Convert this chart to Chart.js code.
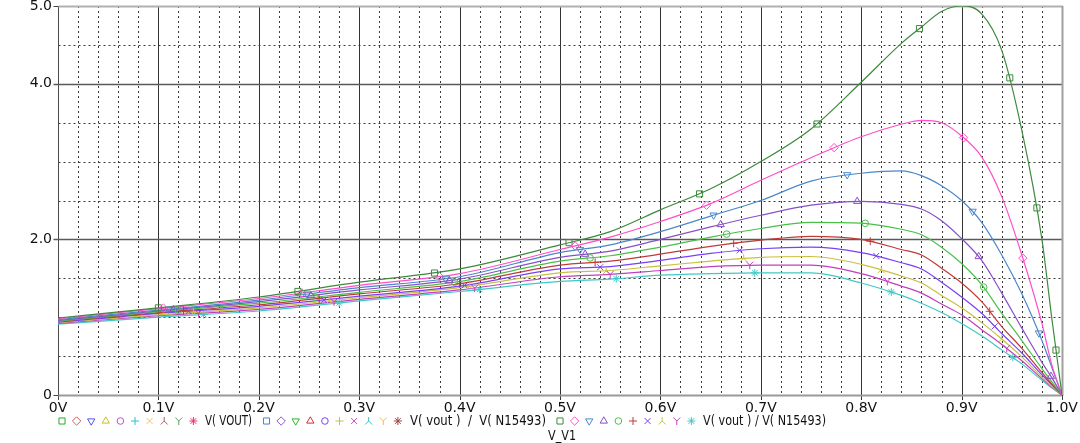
<!DOCTYPE html>
<html>
<head>
<meta charset="utf-8">
<title>V(vout) / V(N15493) sweep</title>
<script src="https://cdn.jsdelivr.net/npm/chart.js@4.4.1/dist/chart.umd.min.js"></script>
<style>
  html, body { margin: 0; padding: 0; background: #fff; }
  #wrap { width: 1080px; height: 443px; position: relative; }
</style>
</head>
<body>
<div id="wrap"><canvas id="plot"></canvas></div>
<script>
'use strict';

/* ── DATA ─────────────────────────────────────────────── */
const sweep = [0, 0.1, 0.2, 0.3, 0.4, 0.5, 0.55, 0.6, 0.65, 0.7, 0.75, 0.8,
               0.84, 0.86, 0.88, 0.9, 0.92, 0.94, 0.96, 0.98, 0.99, 1.0];

const vGreen   = [0.99, 1.12, 1.26, 1.45, 1.62, 1.93, 2.10, 2.38, 2.65, 3.00, 3.42, 4.02, 4.52, 4.73, 4.93, 5.00, 4.90, 4.43, 3.40, 2.00, 0.97, 0];
const vPink    = [0.98, 1.11, 1.24, 1.41, 1.56, 1.87, 2.03, 2.23, 2.46, 2.76, 3.05, 3.32, 3.48, 3.53, 3.50, 3.33, 3.06, 2.55, 1.80, 0.92, 0.38, 0];
const vBlue    = [0.97, 1.09, 1.22, 1.38, 1.52, 1.83, 1.93, 2.10, 2.30, 2.50, 2.75, 2.85, 2.88, 2.82, 2.69, 2.50, 2.22, 1.80, 1.30, 0.70, 0.35, 0];
const vPurple  = [0.96, 1.08, 1.20, 1.35, 1.49, 1.77, 1.85, 2.00, 2.16, 2.31, 2.44, 2.49, 2.45, 2.39, 2.24, 2.01, 1.73, 1.31, 0.86, 0.42, 0.22, 0];
const vGreen2  = [0.95, 1.07, 1.18, 1.32, 1.46, 1.72, 1.79, 1.90, 2.03, 2.14, 2.22, 2.21, 2.13, 2.06, 1.90, 1.69, 1.42, 1.05, 0.70, 0.34, 0.17, 0];
const vRed     = [0.945, 1.06, 1.16, 1.30, 1.43, 1.67, 1.72, 1.81, 1.91, 1.99, 2.04, 2.00, 1.87, 1.80, 1.63, 1.44, 1.20, 0.88, 0.60, 0.29, 0.14, 0];
const vViolet  = [0.935, 1.05, 1.14, 1.27, 1.40, 1.62, 1.65, 1.73, 1.82, 1.88, 1.90, 1.83, 1.70, 1.62, 1.45, 1.26, 1.05, 0.79, 0.54, 0.26, 0.13, 0];
const vYellow  = [0.93, 1.03, 1.12, 1.25, 1.38, 1.57, 1.60, 1.66, 1.72, 1.77, 1.78, 1.68, 1.53, 1.44, 1.28, 1.12, 0.93, 0.72, 0.49, 0.23, 0.11, 0];
const vMagenta = [0.92, 1.02, 1.10, 1.23, 1.35, 1.52, 1.55, 1.60, 1.65, 1.67, 1.67, 1.56, 1.40, 1.31, 1.17, 1.03, 0.84, 0.65, 0.44, 0.21, 0.10, 0];
const vCyan    = [0.91, 1.00, 1.08, 1.21, 1.33, 1.46, 1.49, 1.54, 1.56, 1.57, 1.57, 1.44, 1.28, 1.18, 1.06, 0.92, 0.76, 0.58, 0.40, 0.19, 0.09, 0];

// sweep values where each trace carries a marker symbol
const mGreen   = [0.1, 0.239, 0.375, 0.509, 0.639, 0.756, 0.858, 0.948, 0.975, 0.994];
const mPink    = [0.105, 0.243, 0.38, 0.515, 0.646, 0.773, 0.902, 0.961];
const mBlue    = [0.11, 0.248, 0.386, 0.52, 0.653, 0.786, 0.911, 0.977];
const mPurple  = [0.115, 0.252, 0.39, 0.525, 0.66, 0.796, 0.917, 0.989];
const mGreen2  = [0.12, 0.256, 0.395, 0.53, 0.666, 0.804, 0.922];
const mRed     = [0.125, 0.26, 0.4, 0.535, 0.673, 0.809, 0.928];
const mViolet  = [0.13, 0.265, 0.405, 0.54, 0.679, 0.815, 0.933];
const mYellow  = [0.135, 0.27, 0.41, 0.546, 0.683, 0.82, 0.94];
const mMagenta = [0.14, 0.275, 0.415, 0.55, 0.689, 0.826, 0.945];
const mCyan    = [0.145, 0.28, 0.42, 0.556, 0.694, 0.83, 0.951];

const xMin = 0, xMax = 1.0, xStep = 0.02;
const yMin = 0, yMax = 5.0, yStep = 0.5;
const yLabelled = [0, 2, 4, 5];
const legendTexts = ['V( VOUT)', 'V( vout )  /  V( N15493)', 'V( vout ) / V( N15493)'];
const axisTitle = 'V_V1';

/* ── STYLE ─────────────────────────── */
const traceValues  = [vGreen, vPink, vBlue, vPurple, vGreen2, vRed, vViolet, vYellow, vMagenta, vCyan];
const traceMarkers = [mGreen, mPink, mBlue, mPurple, mGreen2, mRed, mViolet, mYellow, mMagenta, mCyan];
const symbols = ['square', 'diamond', 'triDown', 'triUp', 'circle', 'plus', 'cross', 'lambda', 'wye', 'star'];

const traceColors = ['#3d8a3d', '#ff4ec8', '#4a88cc', '#8850c8', '#48c048',
                     '#c03a3a', '#7840f8', '#c8c040', '#c040c0', '#40c8c8'];
const legendColors = [
  ['#22b022', '#d05a5a', '#5a50e8', '#c8c020', '#c050c8', '#30c0d0', '#f0c070', '#a06060', '#60a060', '#f03070'],
  ['#4a80d0', '#8a58d0', '#30b030', '#d03030', '#8040f0', '#c8c040', '#c050c0', '#30c0c0', '#e8c050', '#a04040'],
  traceColors,
];
const legendMarkX = [62, 266.5, 560];
const legendTextX = [205, 410, 703];
const legendTextW = [47, 136, 123];
const legendStep  = 14.6;

const FONT = '"DejaVu Sans", sans-serif';
const ink  = '#111';

const pointOpts = {
  square:  { pointStyle: 'rect',     radius: 4.3, rotation: 0 },
  diamond: { pointStyle: 'rectRot',  radius: 4.2, rotation: 0 },
  triDown: { pointStyle: 'triangle', radius: 4.2, rotation: 180 },
  triUp:   { pointStyle: 'triangle', radius: 4.2, rotation: 0 },
  circle:  { pointStyle: 'circle',   radius: 3.3, rotation: 0 },
  plus:    { pointStyle: 'cross',    radius: 4,   rotation: 0 },
  cross:   { pointStyle: 'crossRot', radius: 4.2, rotation: 0 },
  star:    { pointStyle: 'star',     radius: 4,   rotation: 0 },
};

function drawMarker(ctx, sym, color, x, y) {
  ctx.save();
  ctx.strokeStyle = color;
  ctx.fillStyle = 'rgba(0,0,0,0)';
  ctx.lineWidth = 1;
  if (sym === 'lambda' || sym === 'wye') {
    // Y has its arms on top, the turned Y (⅄) has them at the bottom
    const s = sym === 'wye' ? 1 : -1;
    ctx.beginPath();
    ctx.moveTo(x - 3.5, y - 3.5 * s);
    ctx.lineTo(x, y);
    ctx.lineTo(x + 3.5, y - 3.5 * s);
    ctx.moveTo(x, y);
    ctx.lineTo(x, y + 4 * s);
    ctx.stroke();
  } else {
    Chart.helpers.drawPoint(ctx, { ...pointOpts[sym], borderWidth: 1 }, x, y);
  }
  ctx.restore();
}

/* ── GRID (solid majors, dotted minors) ─────────────────────────── */
const gridPlugin = {
  id: 'pspiceGrid',
  beforeDatasetsDraw(chart) {
    const { ctx, chartArea: a, scales: { x, y } } = chart;
    const line = (x1, y1, x2, y2, color, width, dash) => {
      ctx.save();
      ctx.strokeStyle = color;
      ctx.lineWidth = width;
      ctx.setLineDash(dash || []);
      ctx.beginPath();
      ctx.moveTo(x1, y1);
      ctx.lineTo(x2, y2);
      ctx.stroke();
      ctx.restore();
    };
    const L = Math.round(a.left) + 0.5, R = Math.round(a.right);
    const T = Math.round(a.top), B = Math.round(a.bottom);

    // minor lines first
    x.ticks.forEach(t => {
      const k = Math.round(t.value / xStep);
      if (k % 5 === 0) return;
      const px = Math.round(x.getPixelForValue(t.value)) + 0.5;
      line(px, T, px, B, '#3a3a3a', 1, [2, 3]);
    });
    y.ticks.forEach(t => {
      const v = Math.round(t.value * 10) / 10;
      if (yLabelled.includes(v)) return;
      const py = Math.round(y.getPixelForValue(t.value)) + 0.5;
      line(L, py, R, py, '#3a3a3a', 1, [2, 3]);
    });

    // major vertical lines with tick marks below the axis
    x.ticks.forEach(t => {
      const k = Math.round(t.value / xStep);
      if (k % 5 !== 0) return;
      const px = Math.round(x.getPixelForValue(t.value)) + 0.5;
      if (k === 50) return;
      line(px, T, px, B + 5, k === 0 ? '#4a4a4a' : '#333', 1);
    });
    // major horizontal lines with tick marks left of the axis
    y.ticks.forEach(t => {
      const v = Math.round(t.value * 10) / 10;
      if (!yLabelled.includes(v)) return;
      const py = Math.round(y.getPixelForValue(t.value));
      if (v === 0) {
        line(L - 5, py + 0.5, L, py + 0.5, '#444', 1);
        line(L, py + 0.5, R, py + 0.5, '#9a9a9a', 2);
      } else if (v === 5) {
        line(L - 5, py + 0.5, L, py + 0.5, '#444', 1);
        line(L, py + 0.5, R + 1, py + 0.5, '#b0b0b0', 2);
      } else {
        line(L - 5, py + 0.5, R, py + 0.5, '#5a5a5a', 1.3);
      }
    });
    // right frame edge at 1.0V
    const pr = Math.round(x.getPixelForValue(xMax)) + 0.5;
    line(pr, T, pr, B + 1, '#a0a0a0', 2);
    line(pr, B, pr, B + 5, '#444', 1);
  },
};

/* ── TRACE MARKERS + LEGEND ─────────────────────────── */
const markerPlugin = {
  id: 'pspiceMarkers',
  afterDatasetsDraw(chart) {
    const { ctx, scales: { x } } = chart;
    chart.data.datasets.forEach((ds, i) => {
      const el = chart.getDatasetMeta(i).dataset;
      traceMarkers[i].forEach(v => {
        let p = el.interpolate({ x: x.getPixelForValue(v) }, 'x');
        if (Array.isArray(p)) p = p[0];
        if (p) drawMarker(ctx, symbols[i], ds.borderColor, p.x, p.y);
      });
    });
  },
  afterDraw(chart) {
    const { ctx } = chart;
    const rowY = 421;
    legendColors.forEach((cols, g) => {
      cols.forEach((c, k) => drawMarker(ctx, symbols[k], c, legendMarkX[g] + k * legendStep, rowY));
      ctx.save();
      ctx.fillStyle = ink;
      ctx.font = '14px ' + FONT;
      ctx.textBaseline = 'middle';
      ctx.textAlign = 'left';
      ctx.fillText(legendTexts[g], legendTextX[g], rowY, legendTextW[g]);
      ctx.restore();
    });
    ctx.save();
    ctx.fillStyle = ink;
    ctx.font = '14px ' + FONT;
    ctx.textBaseline = 'middle';
    ctx.textAlign = 'center';
    ctx.fillText(axisTitle, 562, 436, 28);
    ctx.restore();
  },
};

/* ── CHART ─────────────────────────── */
new Chart(document.getElementById('plot'), {
  type: 'line',
  data: {
    datasets: traceValues.map((vals, i) => ({
      data: sweep.map((s, j) => ({ x: s, y: vals[j] })),
      borderColor: traceColors[i],
      borderWidth: 1.2,
      pointRadius: 0,
      cubicInterpolationMode: 'monotone',
      fill: false,
    })),
  },
  options: {
    responsive: true,
    maintainAspectRatio: false,
    animation: false,
    layout: { padding: { top: 6, right: 18, bottom: 0, left: 0 } },
    plugins: {
      legend: { display: false },
      tooltip: { enabled: false },
    },
    scales: {
      x: {
        type: 'linear',
        min: xMin,
        max: xMax,
        grid: { display: false, drawTicks: true, tickLength: 5 },
        border: { display: false },
        ticks: {
          stepSize: xStep,
          autoSkip: false,
          maxRotation: 0,
          padding: 0,
          color: ink,
          font: { family: FONT, size: 14 },
          callback: v => {
            const k = Math.round(v / xStep);
            if (k % 5 !== 0) return '';
            return k === 0 ? '0V' : (k * xStep).toFixed(1) + 'V';
          },
        },
        afterFit: s => { s.height = 48; s.paddingLeft = 0; s.paddingRight = 0; },
      },
      y: {
        min: yMin,
        max: yMax,
        grid: { display: false, drawTicks: true, tickLength: 5 },
        border: { display: false },
        ticks: {
          stepSize: yStep,
          autoSkip: false,
          padding: 1,
          color: ink,
          font: { family: FONT, size: 14 },
          callback: v => {
            const r = Math.round(v * 10) / 10;
            if (!yLabelled.includes(r)) return '';
            return r === 0 ? '0' : r.toFixed(1);
          },
        },
        afterFit: s => { s.width = 58; s.paddingTop = 0; s.paddingBottom = 0; },
      },
    },
  },
  plugins: [gridPlugin, markerPlugin],
});
</script>
</body>
</html>
